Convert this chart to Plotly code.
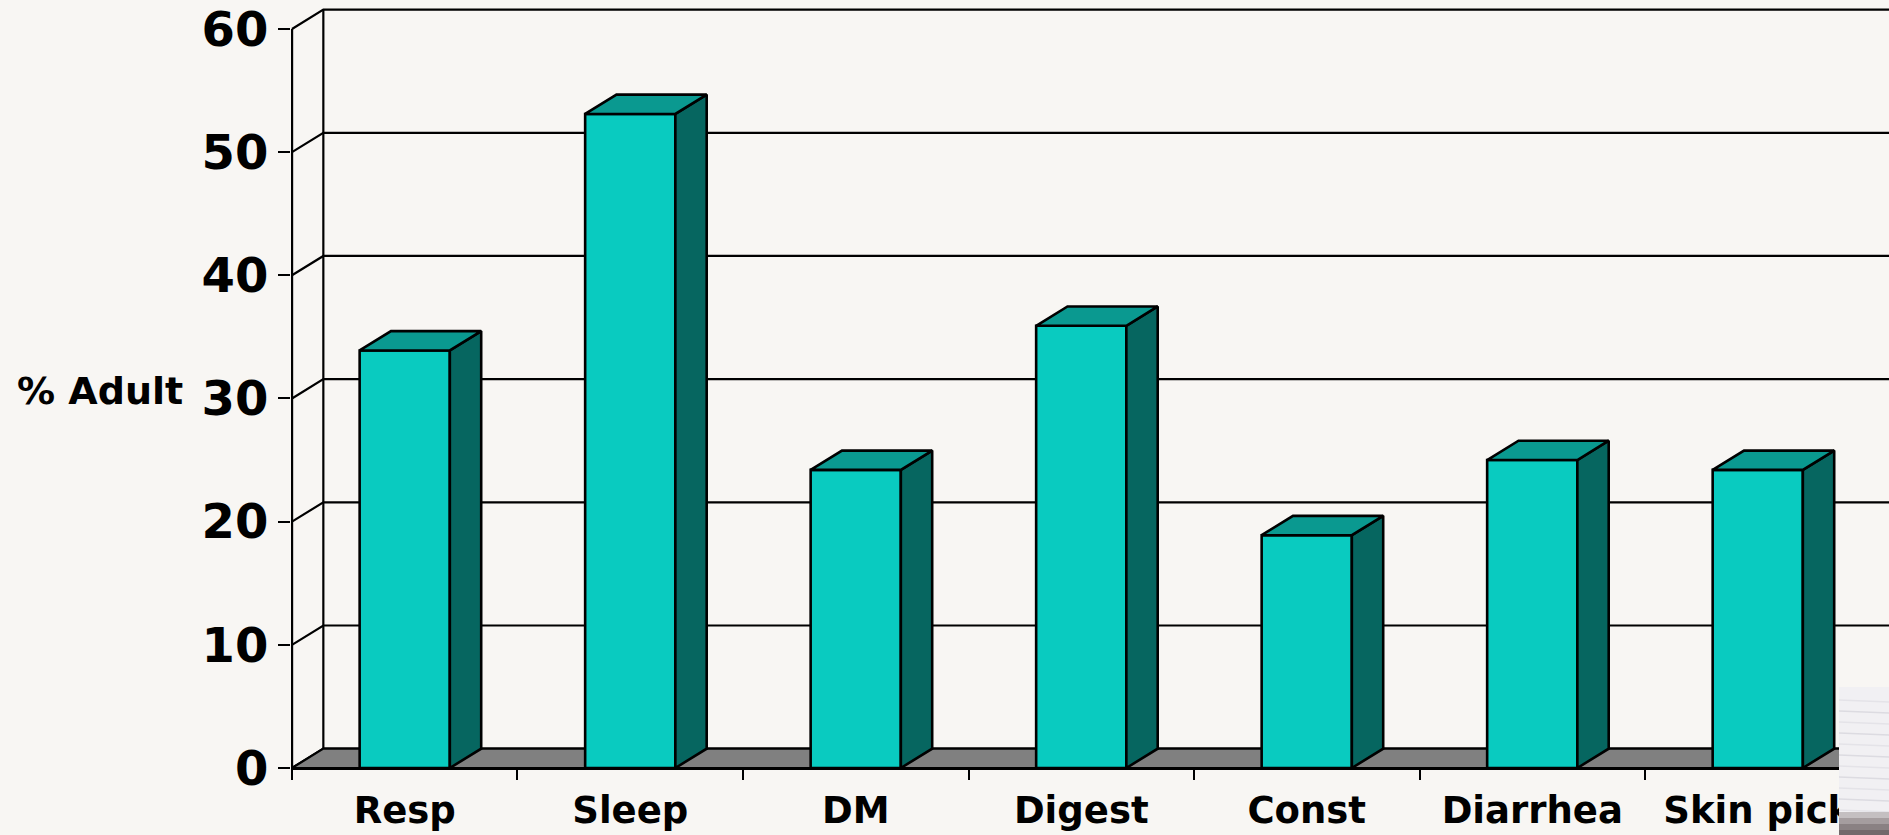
import plotly.graph_objects as go

# ---------------- data ----------------
categories = ["Resp", "Sleep", "DM", "Digest", "Const", "Diarrhea", "Skin pick"]
values = [33.9, 53.1, 24.2, 35.9, 18.9, 25.0, 24.2]
y_ticks = [0, 10, 20, 30, 40, 50, 60]
y_title = "% Adult"

# ---------------- style ----------------
FRONT = "#09cbc0"
SIDE = "#066660"
TOP = "#0a9990"
FLOOR = "#808080"
BG = "#f8f6f3"
FONT = "DejaVu Sans"

BAR_W = 0.4      # bar width in category units
DX = 0.139       # 3-D depth offset (category units)
DY = 1.57        # 3-D depth offset (value units)
X0 = -0.5
X_END = len(categories) - 0.5
XR = [-0.5044, 6.582]
YR = [0, 62.35]

W, H = 1889, 835
ML, MR, MT, MB = 291, 0, 0, 67
PW, PH = W - ML - MR, H - MT - MB

fig = go.Figure()

def add_line(xs, ys, width=2.2):
    fig.add_trace(go.Scatter(x=xs, y=ys, mode="lines",
                             line=dict(color="black", width=width),
                             hoverinfo="skip", showlegend=False))

def add_poly(xs, ys, fill, width=2.6):
    fig.add_trace(go.Scatter(x=xs, y=ys, mode="lines", fill="toself",
                             fillcolor=fill,
                             line=dict(color="black", width=width),
                             hoverinfo="skip", showlegend=False))

# back-wall gridlines and side-wall diagonals
gx, gy = [], []
for v in y_ticks:
    gx += [X0, X0 + DX, X_END + DX, None]
    gy += [v, v + DY, v + DY, None]
gx += [X0 + DX, X0 + DX, None]
gy += [DY, y_ticks[-1] + DY, None]
add_line(gx, gy)

# floor
add_poly([X0, X_END, X_END + DX, X0 + DX, X0],
         [0, 0, DY, DY, 0], FLOOR, width=2.2)

# front value axis line
add_line([X0, X0], [0, y_ticks[-1]], width=2.4)

# bars
fx, fy, sx, sy, tx, ty = [], [], [], [], [], []
for i, v in enumerate(values):
    l, r = i - BAR_W / 2, i + BAR_W / 2
    fx += [l, r, r, l, l, None]
    fy += [0, 0, v, v, 0, None]
    sx += [r, r + DX, r + DX, r, r, None]
    sy += [0, DY, v + DY, v, 0, None]
    tx += [l, r, r + DX, l + DX, l, None]
    ty += [v, v, v + DY, v + DY, v, None]
add_poly(fx, fy, FRONT)
add_poly(sx, sy, SIDE)
add_poly(tx, ty, TOP)

# ---------------- decoration: paper-stack photo in the corner ----------------
def px_x(p):
    return (p - ML) / PW

def px_y(p):
    return (H - MB - p) / PH

shapes = []
shapes.append(dict(type="rect", xref="paper", yref="paper",
                   x0=px_x(1839), x1=px_x(1892), y0=px_y(687), y1=px_y(838),
                   fillcolor="#f1f0f3", line=dict(width=0), layer="above"))
for k, yy in enumerate(range(700, 812, 11)):
    shapes.append(dict(type="line", xref="paper", yref="paper",
                       x0=px_x(1839), x1=px_x(1892), y0=px_y(yy), y1=px_y(yy + 2),
                       line=dict(color="#dcdbe1" if k % 2 else "#e4e3e8", width=1.5),
                       layer="above"))
for yy, col in [(812, "#c4bfc1"), (818, "#a59d9f"), (824, "#8a8183"), (830, "#72696b")]:
    shapes.append(dict(type="rect", xref="paper", yref="paper",
                       x0=px_x(1839), x1=px_x(1892), y0=px_y(yy + 6), y1=px_y(yy),
                       fillcolor=col, line=dict(width=0), layer="above"))

fig.update_layout(
    width=W, height=H,
    margin=dict(l=ML, r=MR, t=MT, b=MB, pad=0, autoexpand=False),
    paper_bgcolor=BG, plot_bgcolor=BG,
    showlegend=False,
    shapes=shapes,
    xaxis=dict(
        range=XR, showgrid=False, zeroline=False, automargin=False,
        showline=True, linecolor="black", linewidth=2.4,
        tickmode="array", tickvals=list(range(len(categories))),
        ticktext=categories, ticks="",
        tickfont=dict(family=FONT, size=37, color="black", weight="bold"),
        ticklabelstandoff=8,
        minor=dict(tickmode="array",
                   tickvals=[X0 + k for k in range(len(categories) + 1)],
                   ticks="outside", ticklen=10, tickwidth=2.4, tickcolor="black",
                   showgrid=False),
        fixedrange=True,
    ),
    yaxis=dict(
        range=YR, showgrid=False, zeroline=False, showline=False, automargin=False,
        tickmode="array", tickvals=y_ticks,
        ticks="outside", ticklen=12, tickwidth=2.4, tickcolor="black",
        tickfont=dict(family=FONT, size=48, color="black", weight="bold"),
        ticklabelstandoff=0,
        fixedrange=True,
    ),
    annotations=[dict(
        text=y_title, xref="paper", yref="paper",
        x=px_x(15), y=px_y(391), xanchor="left", yanchor="middle",
        showarrow=False,
        font=dict(family=FONT, size=38, color="black", weight="bold"),
    )],
)

fig.write_html("out.html")
